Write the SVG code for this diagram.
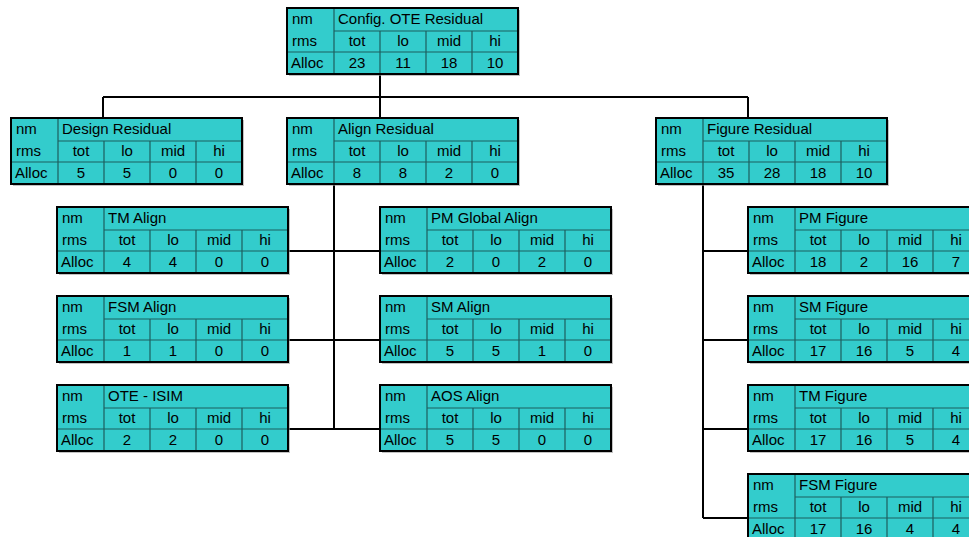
<svg xmlns="http://www.w3.org/2000/svg" xmlns:xlink="http://www.w3.org/1999/xlink" width="969" height="537" viewBox="0 0 969 537">
<style>
text{font-family:"Liberation Sans","DejaVu Sans",sans-serif;font-size:15px;fill:#000}
.c{text-anchor:middle}
.conn{stroke:#000;stroke-width:2;fill:none}
.inner{stroke:#1d5e5e;stroke-width:1.2;fill:none}
</style>
<defs>
<g id="grid">
<rect x="2" y="2" width="231" height="66" fill="#9a9a9a" opacity="0.6"/>
<rect x="0" y="0" width="231" height="66" fill="#33CCCC"/>
<path class="inner" d="M47 0V66M47 23H231M0 44H231M93 23V66M139 23V66M185 23V66"/>
<rect x="0" y="0" width="231" height="66" fill="none" stroke="#000" stroke-width="2"/>
</g>
</defs>
<rect width="969" height="537" fill="#fff"/>
<g id="connectors">
<path class="conn" d="M380 74V118M103 97H748M103 97V118M748 97V118"/>
<path class="conn" d="M334 184V429M288 251H380M288 340H380M288 429H380"/>
<path class="conn" d="M703 185V518M703 251H748M703 340H748M703 429H748M703 518H748"/>
</g>
<g id="config-ote-residual" transform="translate(287,8)">
<use xlink:href="#grid"/>
<text x="5" y="16">nm</text><text x="51" y="16">Config. OTE Residual</text>
<text x="5" y="38">rms</text><text class="c" x="70" y="38">tot</text><text class="c" x="116" y="38">lo</text><text class="c" x="162" y="38">mid</text><text class="c" x="208" y="38">hi</text>
<text x="4" y="60">Alloc</text><text class="c" x="70" y="60">23</text><text class="c" x="116" y="60">11</text><text class="c" x="162" y="60">18</text><text class="c" x="208" y="60">10</text>
</g>
<g id="design-residual" transform="translate(11,118)">
<use xlink:href="#grid"/>
<text x="5" y="16">nm</text><text x="51" y="16">Design Residual</text>
<text x="5" y="38">rms</text><text class="c" x="70" y="38">tot</text><text class="c" x="116" y="38">lo</text><text class="c" x="162" y="38">mid</text><text class="c" x="208" y="38">hi</text>
<text x="4" y="60">Alloc</text><text class="c" x="70" y="60">5</text><text class="c" x="116" y="60">5</text><text class="c" x="162" y="60">0</text><text class="c" x="208" y="60">0</text>
</g>
<g id="align-residual" transform="translate(287,118)">
<use xlink:href="#grid"/>
<text x="5" y="16">nm</text><text x="51" y="16">Align Residual</text>
<text x="5" y="38">rms</text><text class="c" x="70" y="38">tot</text><text class="c" x="116" y="38">lo</text><text class="c" x="162" y="38">mid</text><text class="c" x="208" y="38">hi</text>
<text x="4" y="60">Alloc</text><text class="c" x="70" y="60">8</text><text class="c" x="116" y="60">8</text><text class="c" x="162" y="60">2</text><text class="c" x="208" y="60">0</text>
</g>
<g id="figure-residual" transform="translate(656,118)">
<use xlink:href="#grid"/>
<text x="5" y="16">nm</text><text x="51" y="16">Figure Residual</text>
<text x="5" y="38">rms</text><text class="c" x="70" y="38">tot</text><text class="c" x="116" y="38">lo</text><text class="c" x="162" y="38">mid</text><text class="c" x="208" y="38">hi</text>
<text x="4" y="60">Alloc</text><text class="c" x="70" y="60">35</text><text class="c" x="116" y="60">28</text><text class="c" x="162" y="60">18</text><text class="c" x="208" y="60">10</text>
</g>
<g id="tm-align" transform="translate(57,207)">
<use xlink:href="#grid"/>
<text x="5" y="16">nm</text><text x="51" y="16">TM Align</text>
<text x="5" y="38">rms</text><text class="c" x="70" y="38">tot</text><text class="c" x="116" y="38">lo</text><text class="c" x="162" y="38">mid</text><text class="c" x="208" y="38">hi</text>
<text x="4" y="60">Alloc</text><text class="c" x="70" y="60">4</text><text class="c" x="116" y="60">4</text><text class="c" x="162" y="60">0</text><text class="c" x="208" y="60">0</text>
</g>
<g id="fsm-align" transform="translate(57,296)">
<use xlink:href="#grid"/>
<text x="5" y="16">nm</text><text x="51" y="16">FSM Align</text>
<text x="5" y="38">rms</text><text class="c" x="70" y="38">tot</text><text class="c" x="116" y="38">lo</text><text class="c" x="162" y="38">mid</text><text class="c" x="208" y="38">hi</text>
<text x="4" y="60">Alloc</text><text class="c" x="70" y="60">1</text><text class="c" x="116" y="60">1</text><text class="c" x="162" y="60">0</text><text class="c" x="208" y="60">0</text>
</g>
<g id="ote-isim" transform="translate(57,385)">
<use xlink:href="#grid"/>
<text x="5" y="16">nm</text><text x="51" y="16">OTE - ISIM</text>
<text x="5" y="38">rms</text><text class="c" x="70" y="38">tot</text><text class="c" x="116" y="38">lo</text><text class="c" x="162" y="38">mid</text><text class="c" x="208" y="38">hi</text>
<text x="4" y="60">Alloc</text><text class="c" x="70" y="60">2</text><text class="c" x="116" y="60">2</text><text class="c" x="162" y="60">0</text><text class="c" x="208" y="60">0</text>
</g>
<g id="pm-global-align" transform="translate(380,207)">
<use xlink:href="#grid"/>
<text x="5" y="16">nm</text><text x="51" y="16">PM Global Align</text>
<text x="5" y="38">rms</text><text class="c" x="70" y="38">tot</text><text class="c" x="116" y="38">lo</text><text class="c" x="162" y="38">mid</text><text class="c" x="208" y="38">hi</text>
<text x="4" y="60">Alloc</text><text class="c" x="70" y="60">2</text><text class="c" x="116" y="60">0</text><text class="c" x="162" y="60">2</text><text class="c" x="208" y="60">0</text>
</g>
<g id="sm-align" transform="translate(380,296)">
<use xlink:href="#grid"/>
<text x="5" y="16">nm</text><text x="51" y="16">SM Align</text>
<text x="5" y="38">rms</text><text class="c" x="70" y="38">tot</text><text class="c" x="116" y="38">lo</text><text class="c" x="162" y="38">mid</text><text class="c" x="208" y="38">hi</text>
<text x="4" y="60">Alloc</text><text class="c" x="70" y="60">5</text><text class="c" x="116" y="60">5</text><text class="c" x="162" y="60">1</text><text class="c" x="208" y="60">0</text>
</g>
<g id="aos-align" transform="translate(380,385)">
<use xlink:href="#grid"/>
<text x="5" y="16">nm</text><text x="51" y="16">AOS Align</text>
<text x="5" y="38">rms</text><text class="c" x="70" y="38">tot</text><text class="c" x="116" y="38">lo</text><text class="c" x="162" y="38">mid</text><text class="c" x="208" y="38">hi</text>
<text x="4" y="60">Alloc</text><text class="c" x="70" y="60">5</text><text class="c" x="116" y="60">5</text><text class="c" x="162" y="60">0</text><text class="c" x="208" y="60">0</text>
</g>
<g id="pm-figure" transform="translate(748,207)">
<use xlink:href="#grid"/>
<text x="5" y="16">nm</text><text x="51" y="16">PM Figure</text>
<text x="5" y="38">rms</text><text class="c" x="70" y="38">tot</text><text class="c" x="116" y="38">lo</text><text class="c" x="162" y="38">mid</text><text class="c" x="208" y="38">hi</text>
<text x="4" y="60">Alloc</text><text class="c" x="70" y="60">18</text><text class="c" x="116" y="60">2</text><text class="c" x="162" y="60">16</text><text class="c" x="208" y="60">7</text>
</g>
<g id="sm-figure" transform="translate(748,296)">
<use xlink:href="#grid"/>
<text x="5" y="16">nm</text><text x="51" y="16">SM Figure</text>
<text x="5" y="38">rms</text><text class="c" x="70" y="38">tot</text><text class="c" x="116" y="38">lo</text><text class="c" x="162" y="38">mid</text><text class="c" x="208" y="38">hi</text>
<text x="4" y="60">Alloc</text><text class="c" x="70" y="60">17</text><text class="c" x="116" y="60">16</text><text class="c" x="162" y="60">5</text><text class="c" x="208" y="60">4</text>
</g>
<g id="tm-figure" transform="translate(748,385)">
<use xlink:href="#grid"/>
<text x="5" y="16">nm</text><text x="51" y="16">TM Figure</text>
<text x="5" y="38">rms</text><text class="c" x="70" y="38">tot</text><text class="c" x="116" y="38">lo</text><text class="c" x="162" y="38">mid</text><text class="c" x="208" y="38">hi</text>
<text x="4" y="60">Alloc</text><text class="c" x="70" y="60">17</text><text class="c" x="116" y="60">16</text><text class="c" x="162" y="60">5</text><text class="c" x="208" y="60">4</text>
</g>
<g id="fsm-figure" transform="translate(748,474)">
<use xlink:href="#grid"/>
<text x="5" y="16">nm</text><text x="51" y="16">FSM Figure</text>
<text x="5" y="38">rms</text><text class="c" x="70" y="38">tot</text><text class="c" x="116" y="38">lo</text><text class="c" x="162" y="38">mid</text><text class="c" x="208" y="38">hi</text>
<text x="4" y="60">Alloc</text><text class="c" x="70" y="60">17</text><text class="c" x="116" y="60">16</text><text class="c" x="162" y="60">4</text><text class="c" x="208" y="60">4</text>
</g>
</svg>
